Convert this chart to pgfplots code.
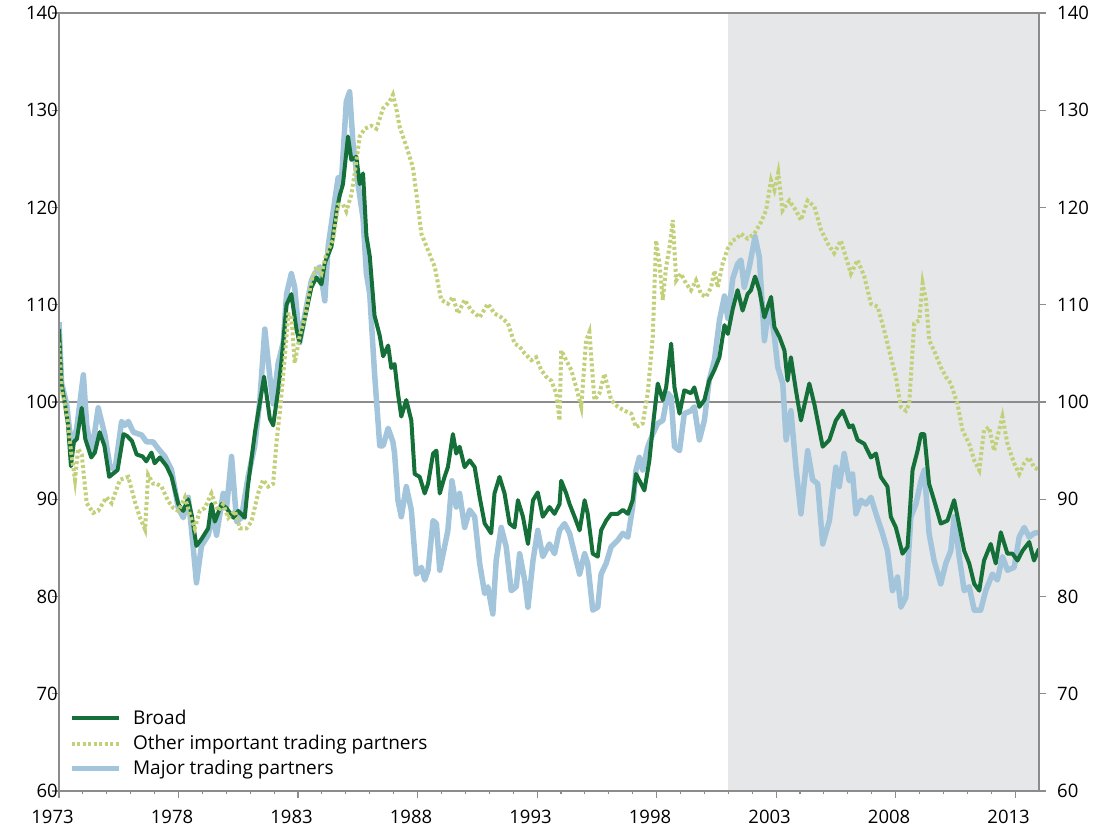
\documentclass[border=0pt]{standalone}
\usepackage{pgfplots}
\pgfplotsset{compat=1.18}
\usepackage{fontspec}
\setmainfont{Open Sans}
\definecolor{broad}{RGB}{20,112,56}
\definecolor{major}{RGB}{163,197,220}
\definecolor{other}{RGB}{195,208,122}
\definecolor{shadegray}{RGB}{230,231,232}
\definecolor{axgray}{RGB}{140,140,140}
\begin{document}
\fontsize{19}{23}\selectfont
\begin{tikzpicture}
\pgfplotsset{
  myaxis/.style={
    width=980pt, height=778pt, scale only axis,
    xmin=1973, xmax=2014, ymin=60, ymax=140,
    axis line style={axgray, line width=1.1pt},
    tick style={axgray, line width=1.1pt},
    tick align=outside,
    major tick length=7pt, minor tick length=3.5pt,
    ytick={60,70,...,140},
    tick label style={font=\fontsize{18.5}{22}\selectfont, inner sep=2pt},
    /pgf/number format/assume math mode=true,
    /pgf/number format/1000 sep={},
  }
}
\begin{axis}[myaxis,
    xtick={1973,1978,...,2013},
    minor xtick={1974,1975,...,2013},
    xtick pos=bottom,
    ytick pos=left,
    axis on top,
    yticklabel style={xshift=8pt},
    xticklabel style={yshift=-10pt, xshift=-6.5pt},
    legend cell align=left,
    legend style={at={(0.007,0.012)}, anchor=south west, draw=none, fill=none,
      row sep=4pt, font=\fontsize{19}{23}\selectfont,
      nodes={inner xsep=12pt}},
    legend image code/.code={\draw[#1] (0pt,0pt) -- (47pt,0pt);},
  ]
\coordinate (LL) at (rel axis cs:0,0);
\coordinate (UR) at (rel axis cs:1,1);
\fill[shadegray] (axis cs:2001,60) rectangle (axis cs:2014,140);
\draw[axgray, line width=1.1pt] (axis cs:1973,100) -- (axis cs:2014,100);

\addlegendimage{broad, line width=4pt}
\addlegendentry{Broad}
\addlegendimage{other, line width=4pt, dash pattern=on 3pt off 2.5pt}
\addlegendentry{Other important trading partners}
\addlegendimage{major, line width=5pt}
\addlegendentry{Major trading partners}

% Major trading partners
\addplot[major, line width=5.5pt, line join=round, forget plot] table {
1973.0 108.2
1973.11 101.9
1973.32 99.8
1973.53 95.2
1973.74 97.3
1974.02 102.8
1974.16 97.6
1974.37 94.8
1974.64 99.4
1974.92 96.6
1975.13 93.4
1975.34 93.0
1975.62 98.0
1975.76 97.6
1975.9 98.0
1976.11 96.9
1976.46 96.6
1976.66 95.9
1976.94 95.9
1977.15 95.2
1977.43 94.4
1977.71 93.0
1977.99 89.1
1978.2 88.1
1978.41 90.2
1978.61 85.2
1978.75 81.4
1978.96 85.2
1979.24 86.3
1979.45 88.4
1979.59 86.3
1979.87 90.6
1980.01 89.1
1980.22 94.4
1980.43 87.7
1980.63 88.1
1980.91 92.3
1981.19 95.5
1981.4 100.1
1981.61 107.5
1981.82 102.6
1981.96 99.8
1982.17 104.0
1982.38 106.1
1982.52 111.1
1982.72 113.2
1982.86 111.8
1983.07 106.1
1983.28 108.9
1983.56 112.5
1983.7 113.2
1983.91 113.9
1984.12 110.4
1984.26 116.0
1984.47 119.6
1984.68 123.1
1984.81 122.4
1985.02 130.9
1985.16 131.9
1985.3 126.6
1985.51 122.4
1985.72 118.9
1985.86 113.2
1986.0 111.1
1986.2 103.0
1986.42 95.5
1986.56 95.5
1986.77 97.3
1986.97 95.9
1987.04 94.7
1987.18 89.9
1987.32 88.2
1987.53 91.3
1987.74 88.9
1987.95 82.3
1988.16 83.0
1988.3 81.7
1988.44 82.7
1988.65 87.8
1988.79 87.5
1988.93 82.7
1989.13 85.1
1989.27 86.8
1989.44 91.9
1989.62 89.2
1989.76 90.6
1989.97 87.1
1990.18 88.9
1990.39 88.2
1990.6 83.4
1990.81 80.3
1990.94 81.0
1991.15 78.2
1991.29 83.7
1991.5 87.1
1991.71 85.1
1991.92 80.6
1992.13 81.0
1992.27 84.4
1992.48 81.7
1992.62 78.9
1992.83 83.7
1993.03 86.8
1993.24 84.1
1993.52 85.4
1993.73 84.4
1993.94 86.8
1994.15 87.5
1994.36 86.5
1994.57 84.4
1994.78 82.3
1994.99 84.4
1995.12 83.4
1995.33 78.6
1995.54 78.9
1995.68 82.3
1995.89 83.4
1996.1 85.1
1996.38 85.8
1996.59 86.5
1996.8 86.1
1997.0 89.2
1997.14 93.0
1997.28 94.3
1997.42 93.0
1997.63 95.4
1997.84 96.7
1998.05 97.8
1998.26 98.1
1998.47 100.9
1998.61 100.5
1998.75 95.4
1998.96 95.0
1999.16 98.8
1999.44 99.1
1999.58 99.5
1999.79 96.1
2000.0 98.1
2000.2 102.2
2000.42 104.3
2000.63 108.4
2000.84 110.9
2000.98 108.6
2001.19 112.7
2001.39 114.2
2001.53 114.6
2001.67 111.8
2001.88 113.9
2002.12 117.0
2002.3 114.9
2002.51 106.3
2002.72 110.1
2002.93 106.7
2003.07 103.6
2003.28 101.9
2003.42 96.1
2003.62 99.1
2003.83 93.3
2004.04 88.5
2004.32 95.0
2004.53 92.0
2004.74 91.6
2004.95 85.4
2005.23 87.8
2005.5 93.3
2005.64 91.3
2005.85 94.7
2006.06 91.9
2006.2 92.6
2006.34 88.5
2006.55 89.9
2006.76 89.5
2006.97 90.2
2007.18 88.5
2007.45 86.5
2007.66 84.7
2007.87 80.6
2008.08 82.0
2008.22 78.9
2008.43 79.9
2008.64 88.2
2008.85 89.5
2009.06 91.9
2009.2 93.0
2009.4 86.5
2009.61 83.7
2009.89 81.3
2010.1 83.4
2010.31 84.7
2010.45 88.2
2010.66 84.1
2010.87 80.6
2011.08 81.0
2011.29 78.6
2011.56 78.6
2011.77 80.6
2012.05 82.3
2012.26 81.7
2012.47 84.1
2012.68 82.7
2012.96 83.0
2013.17 86.1
2013.38 87.1
2013.59 86.1
2013.79 86.5
2014.0 86.6
};

% Broad
\addplot[broad, line width=4pt, line join=round, forget plot] table {
1973.0 107.5
1973.1 101.9
1973.25 99.8
1973.38 97.6
1973.5 93.4
1973.62 95.9
1973.75 96.2
1973.95 99.4
1974.1 96.2
1974.35 94.3
1974.5 94.8
1974.7 96.9
1974.9 95.5
1975.1 92.3
1975.3 92.7
1975.45 93.0
1975.7 96.7
1975.85 96.5
1976.05 96.0
1976.25 94.6
1976.5 94.4
1976.65 93.9
1976.87 94.8
1977.0 93.7
1977.22 94.3
1977.5 93.4
1977.71 92.3
1977.99 89.5
1978.2 88.8
1978.4 90.0
1978.55 88.4
1978.75 85.2
1978.96 85.9
1979.24 87.0
1979.38 89.5
1979.52 87.7
1979.8 89.5
1980.0 89.1
1980.3 88.1
1980.5 88.8
1980.77 88.1
1980.9 91.3
1981.2 96.9
1981.58 102.6
1981.82 98.3
1981.96 97.6
1982.17 101.2
1982.3 104.0
1982.52 110.0
1982.72 111.1
1982.93 107.5
1983.07 106.1
1983.28 108.6
1983.56 111.8
1983.77 112.8
1983.98 112.1
1984.12 114.3
1984.4 116.0
1984.61 119.6
1984.75 121.3
1984.88 122.4
1985.09 127.3
1985.23 124.9
1985.44 125.2
1985.58 122.4
1985.72 123.5
1985.86 117.1
1986.0 115.0
1986.2 108.9
1986.42 106.8
1986.56 104.7
1986.77 105.8
1986.9 103.5
1987.04 103.9
1987.18 100.9
1987.32 98.5
1987.53 100.2
1987.74 98.1
1987.88 92.6
1988.09 92.3
1988.3 90.6
1988.44 91.6
1988.65 94.7
1988.79 95.0
1988.93 90.6
1989.13 92.3
1989.27 93.3
1989.48 96.7
1989.62 94.7
1989.76 95.4
1989.97 93.3
1990.18 94.0
1990.39 93.3
1990.6 90.2
1990.81 87.5
1991.08 86.5
1991.22 90.6
1991.43 92.3
1991.64 90.6
1991.85 87.5
1992.06 87.1
1992.2 89.9
1992.41 88.2
1992.62 85.4
1992.83 89.9
1993.03 90.7
1993.24 88.2
1993.52 89.2
1993.73 88.5
1993.94 89.5
1994.01 91.9
1994.22 90.6
1994.36 89.5
1994.57 88.2
1994.78 86.8
1994.99 89.9
1995.12 88.5
1995.33 84.4
1995.54 84.1
1995.68 86.8
1995.89 87.8
1996.1 88.5
1996.38 88.5
1996.59 88.9
1996.8 88.5
1997.0 89.9
1997.14 92.6
1997.35 91.6
1997.49 90.9
1997.7 94.0
1997.84 97.4
1998.05 101.9
1998.26 100.2
1998.4 101.5
1998.61 106.0
1998.75 101.5
1998.96 98.8
1999.16 101.2
1999.44 100.9
1999.58 101.5
1999.79 99.5
2000.0 100.2
2000.2 102.2
2000.42 103.3
2000.63 104.6
2000.84 107.9
2000.98 107.0
2001.19 109.6
2001.39 111.5
2001.6 109.4
2001.81 111.1
2001.95 111.5
2002.12 112.9
2002.3 111.5
2002.51 108.7
2002.79 110.8
2002.93 107.7
2003.14 106.7
2003.35 105.3
2003.48 102.2
2003.62 104.6
2003.83 101.2
2004.04 98.1
2004.39 101.9
2004.6 99.8
2004.95 95.4
2005.23 96.1
2005.5 98.1
2005.78 99.1
2006.06 97.4
2006.2 97.6
2006.41 96.1
2006.69 95.7
2006.97 94.3
2007.18 94.7
2007.38 92.3
2007.66 91.3
2007.8 88.2
2008.01 87.1
2008.29 84.4
2008.5 85.1
2008.71 93.0
2008.92 95.0
2009.06 96.7
2009.2 96.7
2009.4 91.6
2009.61 89.9
2009.89 87.5
2010.17 87.8
2010.45 89.9
2010.59 88.2
2010.87 84.7
2011.08 83.4
2011.29 81.3
2011.5 80.6
2011.7 83.7
2011.98 85.4
2012.19 83.4
2012.4 86.6
2012.68 84.4
2012.89 84.4
2013.1 83.7
2013.31 84.7
2013.59 85.6
2013.79 83.7
2014.0 84.9
};

% Other important trading partners
\addplot[other, line width=4pt, dash pattern=on 3pt off 2.5pt, forget plot] table {
1973.0 106.1
1973.11 101.2
1973.32 99.0
1973.5 95.0
1973.67 92.0
1973.8 95.2
1973.95 94.6
1974.16 89.6
1974.43 88.6
1974.64 88.8
1974.99 90.2
1975.2 89.6
1975.55 92.0
1975.9 92.3
1976.18 89.7
1976.39 88.1
1976.6 86.9
1976.73 92.5
1976.94 91.6
1977.08 91.6
1977.29 91.3
1977.57 89.8
1977.78 89.1
1977.99 88.8
1978.27 90.2
1978.48 88.4
1978.68 87.0
1978.89 88.8
1979.1 89.1
1979.38 90.6
1979.66 88.8
1979.87 89.5
1980.08 88.1
1980.36 88.8
1980.57 87.0
1980.84 87.0
1981.05 87.7
1981.33 90.6
1981.54 92.0
1981.75 91.3
1981.96 91.6
1982.1 95.9
1982.24 99.0
1982.45 104.7
1982.59 109.0
1982.72 109.0
1982.86 104.0
1983.07 106.8
1983.28 108.6
1983.56 112.5
1983.77 113.9
1983.98 113.2
1984.19 115.3
1984.47 116.7
1984.68 120.3
1984.88 120.3
1985.02 119.6
1985.23 121.3
1985.37 123.5
1985.58 127.3
1985.79 128.1
1986.07 128.4
1986.28 128.1
1986.56 130.2
1986.83 130.9
1986.97 131.6
1987.11 130.2
1987.25 128.3
1987.53 126.3
1987.8 124.2
1987.95 121.5
1988.16 117.3
1988.44 115.6
1988.72 113.9
1988.99 110.5
1989.27 110.1
1989.48 110.8
1989.69 109.1
1989.97 110.5
1990.25 109.4
1990.6 108.7
1990.94 110.1
1991.22 109.1
1991.5 108.7
1991.78 108.1
1992.06 106.0
1992.27 105.7
1992.48 105.0
1992.76 104.3
1992.96 104.6
1993.17 103.3
1993.38 102.6
1993.59 102.2
1993.8 100.9
1993.94 98.1
1994.01 105.3
1994.22 104.3
1994.43 103.3
1994.64 101.5
1994.85 99.5
1995.05 106.3
1995.19 107.2
1995.4 100.2
1995.61 100.9
1995.82 102.9
1996.1 100.2
1996.38 99.5
1996.66 99.1
1996.94 98.8
1997.14 97.4
1997.42 97.8
1997.63 100.9
1997.84 106.7
1997.98 116.6
1998.12 114.2
1998.26 110.5
1998.4 113.9
1998.54 115.9
1998.68 118.7
1998.82 112.5
1999.02 113.2
1999.23 112.2
1999.44 111.5
1999.65 112.5
1999.86 111.1
2000.07 110.8
2000.28 111.8
2000.42 113.5
2000.56 111.8
2000.76 114.2
2000.98 115.8
2001.18 116.6
2001.35 116.8
2001.53 117.3
2001.81 116.8
2002.09 117.3
2002.37 118.5
2002.58 119.7
2002.79 122.8
2002.93 121.8
2003.09 123.6
2003.27 119.7
2003.55 120.7
2003.83 119.7
2004.04 118.7
2004.32 120.7
2004.6 120.1
2004.88 117.7
2005.16 116.3
2005.43 115.3
2005.71 116.6
2005.92 114.9
2006.13 113.2
2006.41 114.6
2006.69 112.9
2006.97 110.1
2007.25 109.8
2007.52 107.4
2007.8 104.6
2008.01 102.6
2008.22 99.5
2008.43 99.1
2008.57 99.8
2008.78 108.1
2008.99 108.4
2009.13 112.2
2009.27 110.5
2009.41 106.3
2009.61 105.3
2009.89 103.6
2010.1 102.6
2010.31 101.9
2010.59 99.8
2010.8 97.1
2011.08 95.7
2011.29 94.0
2011.5 93.0
2011.7 97.1
2011.91 97.4
2012.12 95.0
2012.33 97.1
2012.47 98.5
2012.68 95.7
2012.96 93.7
2013.17 92.6
2013.38 93.7
2013.59 94.3
2013.79 93.3
2014.0 93.0
};
\end{axis}
\begin{axis}[myaxis,
    axis x line=none,
    axis y line*=right,
    ytick pos=right,
    yticklabel pos=right,
    yticklabel style={xshift=9pt},
  ]
\end{axis}
\pgfresetboundingbox
\path[use as bounding box] ([xshift=-59pt,yshift=-39pt]LL) rectangle ([xshift=60pt,yshift=13pt]UR);
\end{tikzpicture}
\end{document}
